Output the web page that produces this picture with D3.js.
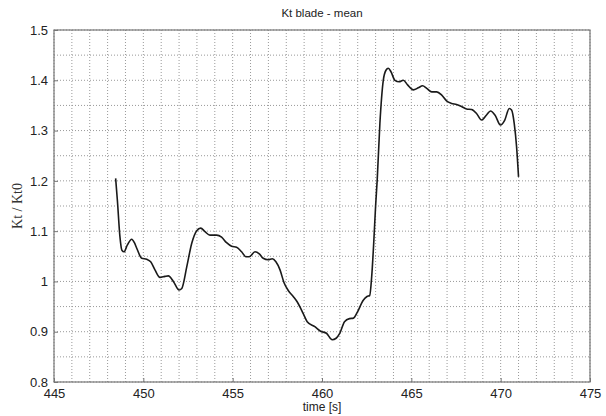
<!DOCTYPE html>
<html>
<head>
<meta charset="utf-8">
<script src="https://cdn.jsdelivr.net/npm/d3@7"></script>
<style>
    body { margin: 0; background: #fff; }
</style>
</head>
<body>
<script>
const svgWidth = 606;
const svgHeight = 416;
const margin = {left: 54, right: 16, top: 30, bottom: 34};

// time [s]
const times = [
    448.45, 448.55, 448.69, 448.8, 448.92, 449.1, 449.35, 449.5, 449.63, 449.91,
    450.19, 450.41, 450.65, 450.93, 451.21, 451.4, 451.68, 452.0, 452.15, 452.43,
    452.71, 452.99, 453.21, 453.45, 453.73, 454.1, 454.38, 454.66, 454.94, 455.22,
    455.5, 455.74, 455.93, 456.25, 456.49, 456.71, 456.99, 457.22, 457.42, 457.65,
    457.87, 458.11, 458.39, 458.6, 458.95, 459.17, 459.6, 459.92, 460.25, 460.57,
    460.79, 461.0, 461.26, 461.54, 461.76, 461.98, 462.3, 462.52, 462.67, 462.78,
    462.9, 463.0, 463.09, 463.24, 463.43, 463.58, 463.71, 463.86, 464.08, 464.32,
    464.55, 464.79, 465.11, 465.39, 465.63, 465.86, 466.14, 466.42, 466.69, 466.97,
    467.25, 467.53, 467.81, 468.09, 468.37, 468.65, 468.93, 469.21, 469.43, 469.68,
    469.99, 470.23, 470.48, 470.61, 470.76, 470.89, 471.0
];

// Kt / Kt0
const ktRatio = [
    1.205, 1.16, 1.089, 1.062, 1.059, 1.072, 1.084, 1.077, 1.066, 1.046,
    1.044, 1.039, 1.023, 1.008, 1.010, 1.011, 1.000, 0.983, 0.986, 1.029,
    1.076, 1.101, 1.106, 1.099, 1.092, 1.092, 1.088, 1.077, 1.070, 1.068,
    1.059, 1.049, 1.049, 1.059, 1.055, 1.046, 1.043, 1.045, 1.039, 1.023,
    0.998, 0.982, 0.970, 0.960, 0.936, 0.920, 0.910, 0.901, 0.897, 0.884,
    0.887, 0.897, 0.920, 0.926, 0.927, 0.939, 0.962, 0.970, 0.972, 1.009,
    1.08, 1.15, 1.202, 1.314, 1.400, 1.420, 1.424, 1.417, 1.400, 1.397,
    1.400, 1.391, 1.381, 1.385, 1.389, 1.384, 1.377, 1.377, 1.371, 1.359,
    1.354, 1.352, 1.348, 1.343, 1.342, 1.334, 1.321, 1.331, 1.339, 1.331,
    1.311, 1.321, 1.344, 1.341, 1.314, 1.268, 1.208
];

const xTicks = [445, 450, 455, 460, 465, 470, 475];
const yTicks = [0.8, 0.9, 1, 1.1, 1.2, 1.3, 1.4, 1.5];
const xGrid = d3.range(445, 476, 1);
const yGrid = d3.range(0.8, 1.5001, 0.05);

const sans = "'Liberation Sans', Arial, sans-serif";
const serif = "'Liberation Serif', 'Times New Roman', serif";

const svg = d3.select("body").append("svg").attr('width', svgWidth).attr('height', svgHeight);

const x = d3.scaleLinear().domain([445, 475]).range([margin.left, svgWidth - margin.right]);
const y = d3.scaleLinear().domain([0.8, 1.5]).range([svgHeight - margin.bottom, margin.top]);

// grid (dotted, every second and every 0.05)
svg.append("g").selectAll("line").data(xGrid).join("line")
    .attr("x1", d => x(d)).attr("x2", d => x(d))
    .attr("y1", y(0.8)).attr("y2", y(1.5))
    .attr("stroke", "#999")
    .attr("stroke-width", 1)
    .attr("stroke-dasharray", "1,2");

svg.append("g").selectAll("line").data(yGrid).join("line")
    .attr("x1", x(445)).attr("x2", x(475))
    .attr("y1", d => y(d)).attr("y2", d => y(d))
    .attr("stroke", "#999")
    .attr("stroke-width", 1)
    .attr("stroke-dasharray", "1,2");

// axes
const xAxis = svg.append("g")
    .attr("transform", "translate(0," + y(0.8) + ")")
    .call(d3.axisBottom(x).tickValues(xTicks).tickSize(-4).tickPadding(7).tickFormat(d3.format("d")));

const yAxis = svg.append("g")
    .attr("transform", "translate(" + x(445) + ",0)")
    .call(d3.axisLeft(y).tickValues(yTicks).tickSize(-4).tickPadding(6).tickFormat(d => d3.format("")(+d.toFixed(2))));

[xAxis, yAxis].forEach(a => {
    a.select(".domain").remove();
    a.selectAll(".tick line").attr("stroke", "#777");
    a.selectAll(".tick text")
        .style("font-family", sans)
        .style("font-size", "13px")
        .attr("fill", "#222");
});

// box
svg.append("rect")
    .attr("x", x(445)).attr("y", y(1.5))
    .attr("width", x(475) - x(445)).attr("height", y(0.8) - y(1.5))
    .attr("fill", "none")
    .attr("stroke", "#777")
    .attr("stroke-width", 1.2);

// curve
const line = d3.line()
    .x(d => x(d[0]))
    .y(d => y(d[1]))
    .curve(d3.curveMonotoneX);

svg.append("path")
    .datum(d3.zip(times, ktRatio))
    .attr("d", line)
    .attr("fill", "none")
    .attr("stroke", "#1a1a1a")
    .attr("stroke-width", 1.6);

// labels
svg.append("text")
    .attr("x", (x(445) + x(475)) / 2).attr("y", 17)
    .attr("text-anchor", "middle")
    .style("font-family", sans)
    .style("font-size", "11.5px")
    .attr("fill", "#222")
    .text("Kt blade - mean");

svg.append("text")
    .attr("x", (x(445) + x(475)) / 2).attr("y", 411)
    .attr("text-anchor", "middle")
    .style("font-family", sans)
    .style("font-size", "12px")
    .attr("fill", "#222")
    .text("time [s]");

svg.append("text")
    .attr("transform", "translate(22," + (y(0.8) + y(1.5)) / 2 + ") rotate(-90)")
    .attr("text-anchor", "middle")
    .style("font-family", serif)
    .style("font-size", "14px")
    .attr("fill", "#333")
    .text("Kt / Kt0");
</script>
</body>
</html>
